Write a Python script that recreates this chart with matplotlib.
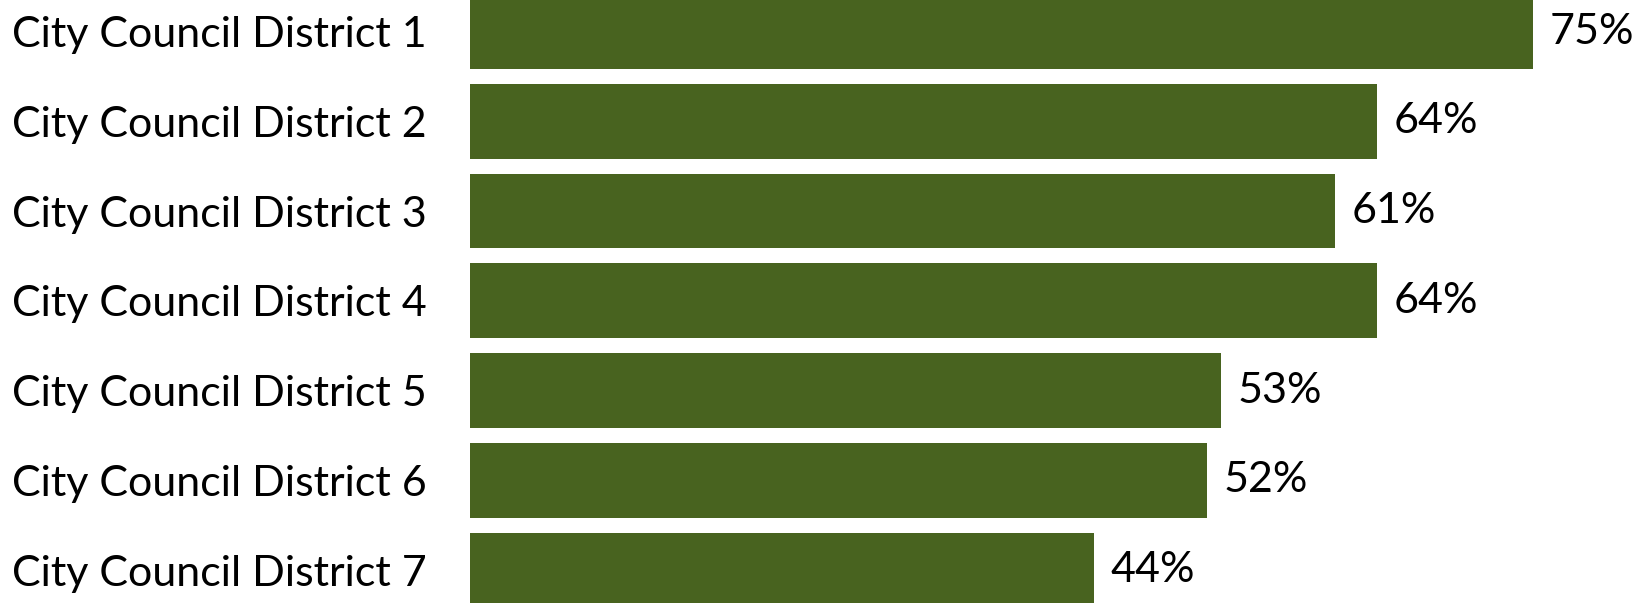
import matplotlib.pyplot as plt

# data
districts = ["City Council District 1", "City Council District 2",
             "City Council District 3", "City Council District 4",
             "City Council District 5", "City Council District 6",
             "City Council District 7"]
pct = [75, 64, 61, 64, 53, 52, 44]

bar_color = "#48631f"

plt.rcParams['font.family'] = ['Lato', 'DejaVu Sans']

fig = plt.figure(figsize=(16.41, 6.03), dpi=100)
ax = fig.add_axes([470 / 1641, 0, 1 - 470 / 1641, 1])

ypos = list(range(len(districts)))
bars = ax.barh(ypos, pct, height=0.833, color=bar_color)
ax.bar_label(bars, labels=[f"{v}%" for v in pct], padding=12, fontsize=31)

ax.set_xlim(0, 82.6)
ax.set_ylim(6.366, -0.352)

ax.set_yticks(ypos)
ax.set_yticklabels(districts, fontsize=31, ha='left')
ax.tick_params(axis='y', length=0, pad=(470 - 12) * 0.72)
ax.set_xticks([])
for s in ax.spines.values():
    s.set_visible(False)

fig.savefig("out.png", dpi=100)
